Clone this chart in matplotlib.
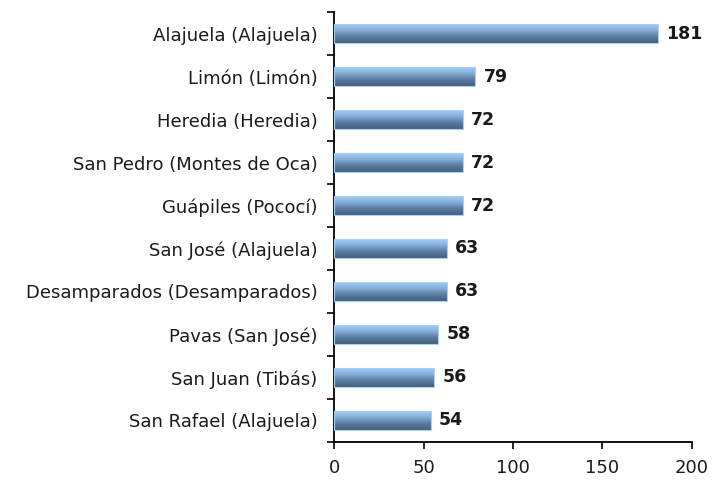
import numpy as np
import matplotlib.pyplot as plt
from matplotlib.colors import LinearSegmentedColormap

# data, top to bottom as in the chart
places = [
    "Alajuela (Alajuela)",
    "Limón (Limón)",
    "Heredia (Heredia)",
    "San Pedro (Montes de Oca)",
    "Guápiles (Pococí)",
    "San José (Alajuela)",
    "Desamparados (Desamparados)",
    "Pavas (San José)",
    "San Juan (Tibás)",
    "San Rafael (Alajuela)",
]
counts = [181, 79, 72, 72, 72, 63, 63, 58, 56, 54]
x_ticks = [0, 50, 100, 150, 200]

plt.rcParams["font.family"] = ["DejaVu Sans"]
fs = 13

fig = plt.figure(figsize=(7.14, 4.84), dpi=100)
ax = fig.add_axes([0.468, 0.087, 0.501, 0.888])

pos = np.arange(len(places))
bars = ax.barh(pos, counts, height=0.45, color="none", edgecolor="#a9d1f7", linewidth=0.8, zorder=3)

# vertical gradient inside each bar (light on top, dark at bottom)
grad_cmap = LinearSegmentedColormap.from_list("bar", ["#a8d1f9", "#88b2de", "#5a7da2", "#44607e"])
grad = np.linspace(0, 1, 64).reshape(-1, 1)
for b in bars:
    x0, y0 = b.get_x(), b.get_y()
    w, h = b.get_width(), b.get_height()
    im = ax.imshow(grad, cmap=grad_cmap, aspect="auto", interpolation="bilinear",
                   extent=(x0, x0 + w, y0 + h, y0), zorder=2)
    im.set_clip_path(b)

for b, v in zip(bars, counts):
    ax.annotate(str(v), (b.get_width(), b.get_y() + b.get_height() / 2),
                xytext=(6, 0), textcoords="offset points", va="center", ha="left",
                fontsize=fs - 0.5, fontweight="bold", color="#1a1a1a")

ax.set_xlim(0, 200)
ax.set_ylim(len(places) - 0.5, -0.5)
ax.set_xticks(x_ticks)
ax.set_xticklabels([str(t) for t in x_ticks], fontsize=fs)
ax.set_yticks(pos)
ax.set_yticklabels(places, fontsize=fs, color="#1a1a1a")
ax.set_yticks(np.arange(len(places) + 1) - 0.5, minor=True)
ax.tick_params(axis="y", which="major", length=0, pad=12)
ax.tick_params(axis="y", which="minor", length=5, width=1.2)
ax.tick_params(axis="x", length=5, width=1.2, pad=7, labelcolor="#1a1a1a")

for side in ["top", "right"]:
    ax.spines[side].set_visible(False)
ax.spines["left"].set_linewidth(1.3)
ax.spines["bottom"].set_linewidth(1.3)

fig.savefig("out.png", dpi=100)
